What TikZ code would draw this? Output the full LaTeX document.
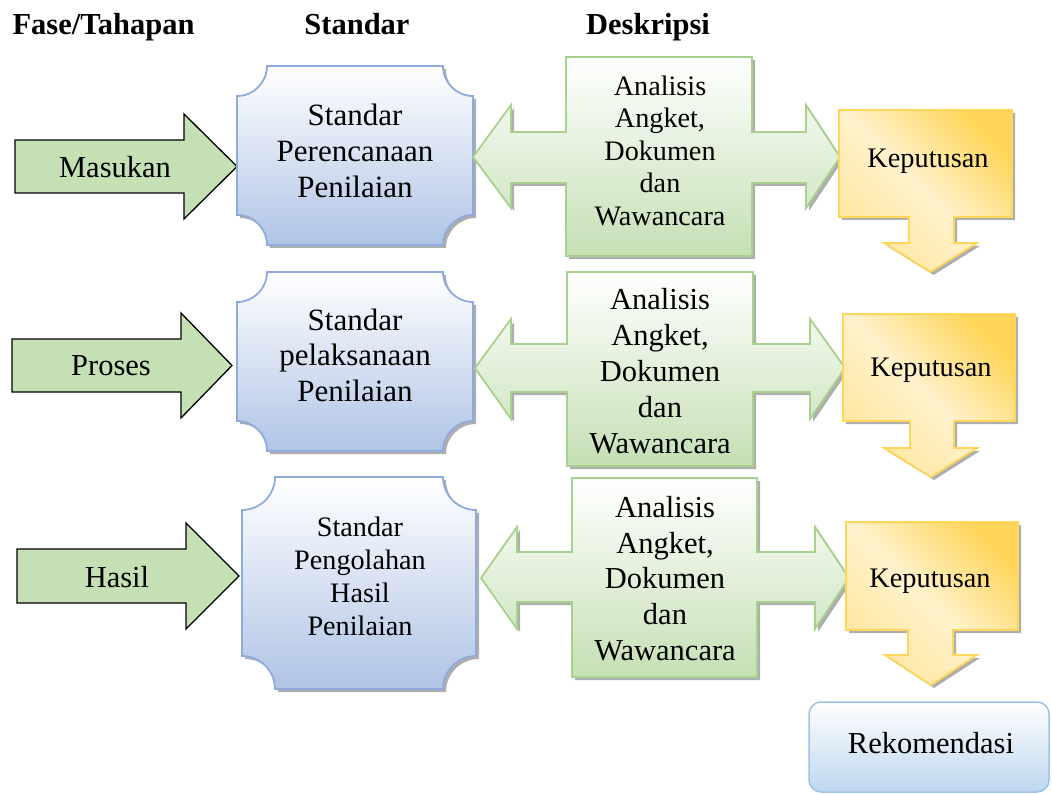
\documentclass[tikz,border=0pt]{standalone}
\usepackage{fontspec}
\setmainfont{Liberation Serif}
\usetikzlibrary{shadows}
\definecolor{lgreen}{HTML}{C5E0B4}
\definecolor{pbord}{HTML}{8FAADC}
\definecolor{pbot}{HTML}{B0C4E6}
\definecolor{gbord}{HTML}{A9D18E}
\definecolor{gbot}{HTML}{C5E0B4}
\definecolor{ydark}{HTML}{FFD55A}
\definecolor{ylight}{HTML}{FFF2CC}
\definecolor{rbord}{HTML}{9DC3E6}
\definecolor{rbot}{HTML}{BDD7EE}
\newcommand\plaquepath[5]{(#1+#5,#2) -- (#3-#5,#2) arc[start angle=180,end angle=90,radius=#5] -- (#3,#4-#5) arc[start angle=270,end angle=180,radius=#5] -- (#1+#5,#4) arc[start angle=0,end angle=-90,radius=#5] -- (#1,#2+#5) arc[start angle=90,end angle=0,radius=#5] -- cycle}
\begin{document}
\begin{tikzpicture}[x=1pt,y=-1pt,
  myshadow/.style={drop shadow={shadow xshift=3pt,shadow yshift=-3pt,fill=black!70,opacity=0.45}},
  inarrow/.style={draw=black, line width=1.3pt, fill=lgreen, line join=miter},
  plaque/.style={draw=pbord, line width=1.8pt, top color=white, bottom color=pbot, myshadow},
  garrow/.style={draw=gbord, line width=1.8pt, top color=white, bottom color=gbot, myshadow, line join=miter},
  kep/.style={draw=ydark, line width=1.8pt, top color=ydark, bottom color=ydark!40!ylight, middle color=ylight, shading angle=-45, myshadow, line join=miter},
  rek/.style={draw=rbord, line width=1.5pt, rounded corners=12pt, top color=white, bottom color=rbot},
  hdr/.style={font=\bfseries\fontsize{30.5}{36}\selectfont, inner sep=0pt, anchor=base},
  one/.style={font=\fontsize{30.5}{36}\selectfont, inner sep=0pt, anchor=base},
  kept/.style={font=\fontsize{28.3}{34}\selectfont, inner sep=0pt, anchor=base},
]
\useasboundingbox (0,0) rectangle (1052,794);

% headers
\node[hdr] (h1) at (103.5,35) {Fase/Tahapan};
\node[hdr] (h2) at (357,35) {Standar};
\node[hdr] (h3) at (648,35) {Deskripsi};

% input arrows
\path[inarrow] (15,140) -- (184,140) -- (184,114) -- (237,166.5) -- (184,219) -- (184,193) -- (15,193) -- cycle;
\path[inarrow] (12,339) -- (181,339) -- (181,313) -- (232,365.5) -- (181,418) -- (181,392) -- (12,392) -- cycle;
\path[inarrow] (17,549) -- (186,549) -- (186,523) -- (239,576) -- (186,629) -- (186,603) -- (17,603) -- cycle;
\node[one] (in1) at (115,178) {Masukan};
\node[one] (in2) at (111,375) {Proses};
\node[one] (in3) at (117,587) {Hasil};

% standard plaques
\path[plaque] \plaquepath{237}{66}{473}{245}{30};
\path[plaque] \plaquepath{237}{272}{473}{451}{30};
\path[plaque] \plaquepath{242}{477}{476}{689}{33};
\node[font=\fontsize{31}{36}\selectfont, align=center, inner sep=0pt] (s1) at (355,150.5) {Standar\\Perencanaan\\Penilaian};
\node[font=\fontsize{31}{35.5}\selectfont, align=center, inner sep=0pt] (s2) at (355,355) {Standar\\pelaksanaan\\Penilaian};
\node[font=\fontsize{28.2}{32.8}\selectfont, align=center, inner sep=0pt] (s3) at (360,576.3) {Standar\\Pengolahan\\Hasil\\Penilaian};

% description double arrows
\path[garrow] (566,57) -- (752,57) -- (752,132) -- (806,132) -- (806,105) -- (840,157) -- (806,208) -- (806,183) -- (752,183) -- (752,256) -- (566,256) -- (566,183) -- (511,183) -- (511,208) -- (473,157) -- (511,105) -- (511,132) -- (566,132) -- cycle;
\path[garrow] (567,272) -- (753,272) -- (753,344) -- (810,344) -- (810,319) -- (845,368) -- (810,419) -- (810,392) -- (753,392) -- (753,466) -- (567,466) -- (567,392) -- (511,392) -- (511,419) -- (475,368) -- (511,319) -- (511,344) -- (567,344) -- cycle;
\path[garrow] (572,478) -- (757,478) -- (757,552) -- (815,552) -- (815,527) -- (849,578) -- (815,629) -- (815,602) -- (757,602) -- (757,677) -- (572,677) -- (572,602) -- (517,602) -- (517,629) -- (481,578) -- (517,527) -- (517,552) -- (572,552) -- cycle;
\node[font=\fontsize{28.2}{32.5}\selectfont, align=center, inner sep=0pt] (d1) at (660,150.5) {Analisis\\Angket,\\Dokumen\\dan\\Wawancara};
\node[font=\fontsize{30.5}{36}\selectfont, align=center, inner sep=0pt] (d2) at (660,371.6) {Analisis\\Angket,\\Dokumen\\dan\\Wawancara};
\node[font=\fontsize{30.5}{35.6}\selectfont, align=center, inner sep=0pt] (d3) at (665,578.5) {Analisis\\Angket,\\Dokumen\\dan\\Wawancara};

% decision boxes with down arrows
\path[kep] (839,110) -- (1012,110) -- (1012,217) -- (954,217) -- (954,243) -- (977,243) -- (930.5,272) -- (884,243) -- (909,243) -- (909,217) -- (839,217) -- cycle;
\path[kep] (843,314) -- (1015,314) -- (1015,421) -- (954,421) -- (954,448) -- (977,448) -- (931,477) -- (884,448) -- (910,448) -- (910,421) -- (843,421) -- cycle;
\path[kep] (846,522) -- (1018,522) -- (1018,630) -- (953,630) -- (953,655) -- (977,655) -- (931,685) -- (885,655) -- (908,655) -- (908,630) -- (846,630) -- cycle;
\node[kept] (k1) at (928,168) {Keputusan};
\node[kept] (k2) at (931,376) {Keputusan};
\node[kept] (k3) at (930,587) {Keputusan};

% recommendation
\path[rek] (809,702) rectangle (1049,792);
\node[one] (rk) at (931,753) {Rekomendasi};
\end{tikzpicture}
\end{document}
